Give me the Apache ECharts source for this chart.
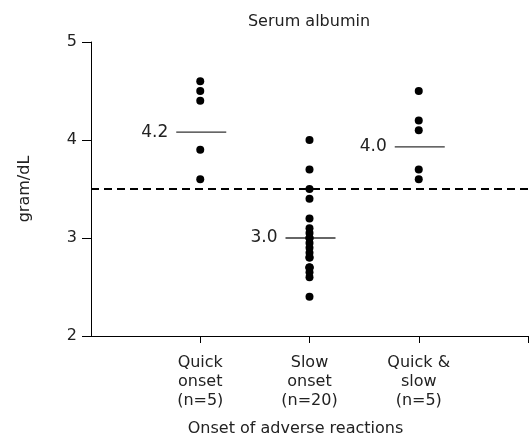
<!DOCTYPE html>
<html>
<head>
<meta charset="utf-8">
<script src="https://cdn.jsdelivr.net/npm/echarts@6/dist/echarts.min.js"></script>
<style>
  html, body { margin: 0; padding: 0; background: #fff; }
  #chart { width: 531px; height: 441px; }
</style>
</head>
<body>
<div id="chart"></div>
<script>
// groups on the x axis
var groups = ['Quick\nonset\n(n=5)', 'Slow\nonset\n(n=20)', 'Quick &\nslow\n(n=5)'];

// serum albumin values (gram/dL)
var quickOnset = [4.6, 4.5, 4.4, 3.9, 3.6];
var slowOnset = [4.0, 3.7, 3.5, 3.4, 3.2, 3.1, 3.05, 3.0, 3.0, 2.95, 2.9, 2.85, 2.8, 2.8,
                 2.7, 2.7, 2.7, 2.65, 2.6, 2.4];
var quickSlow = [4.5, 4.2, 4.1, 3.7, 3.6];

// horizontal mean bars as drawn, and their printed labels
var meanLineY = [4.08, 3.0, 3.93];
var meanLabels = ['4.2', '3.0', '4.0'];

// reference (lower normal limit)
var cutoff = 3.5;

var yTicks = [2, 3, 4, 5];

var font = 'DejaVu Sans';

var allGroups = [quickOnset, slowOnset, quickSlow];
var dots = [];
for (var g = 0; g < allGroups.length; g++) {
    for (var i = 0; i < allGroups[g].length; i++) {
        dots.push([g + 1, allGroups[g][i]]);
    }
}

var meanData = [];
for (var m = 0; m < meanLineY.length; m++) {
    meanData.push([m + 1, meanLineY[m], meanLabels[m]]);
}

var myChart = echarts.init(document.getElementById('chart'));

var option = {
    animation: false,
    title: {
        text: 'Serum albumin',
        left: 304,
        top: 9,
        textAlign: 'center',
        textStyle: { fontFamily: font, fontSize: 16, fontWeight: 'normal', color: '#222' }
    },
    grid: { left: 91, right: 3, top: 42, bottom: 105, outerBoundsMode: 'none', containLabel: false },
    xAxis: {
        type: 'value',
        min: 0,
        max: 4,
        interval: 1,
        splitLine: { show: false },
        axisLine: { lineStyle: { color: '#000', width: 1 } },
        axisTick: {
            lineStyle: { color: '#000' }, length: 7,
            customValues: [1, 2, 3, 4]
        },
        axisLabel: {
            customValues: [1, 2, 3],
            formatter: function (v) { return groups[v - 1] || ''; },
            fontFamily: font,
            fontSize: 16,
            lineHeight: 19,
            color: '#222',
            margin: 17
        },
        name: 'Onset of adverse reactions',
        nameLocation: 'middle',
        nameGap: 85,
        nameTextStyle: { fontFamily: font, fontSize: 16, color: '#222', padding: [0, 28, 0, 0] }
    },
    yAxis: {
        type: 'value',
        min: 2,
        max: 5,
        interval: 1,
        splitLine: { show: false },
        axisLine: { show: true, lineStyle: { color: '#000', width: 1 } },
        axisTick: { show: true, inside: false, length: 9, lineStyle: { color: '#000' } },
        axisLabel: {
            fontFamily: font, fontSize: 16, color: '#222', margin: 14,
            formatter: function (v) { return yTicks.indexOf(v) >= 0 ? String(v) : ''; }
        },
        name: 'gram/dL',
        nameLocation: 'middle',
        nameGap: 58,
        nameTextStyle: { fontFamily: font, fontSize: 16, color: '#222' }
    },
    series: [
        {
            type: 'scatter',
            data: dots,
            symbol: 'circle',
            symbolSize: 8,
            itemStyle: { color: '#000', opacity: 1 },
            markLine: {
                silent: true,
                symbol: ['none', 'none'],
                label: { show: false },
                lineStyle: { color: '#000', width: 2, type: [8, 5] },
                data: [{ yAxis: cutoff }]
            },
            z: 3
        },
        {
            type: 'custom',
            data: meanData,
            renderItem: function (params, api) {
                var p = api.coord([api.value(0), api.value(1)]);
                var label = meanLabels[params.dataIndex];
                return {
                    type: 'group',
                    children: [
                        {
                            type: 'line',
                            shape: { x1: p[0] - 24, y1: p[1], x2: p[0] + 26, y2: p[1] },
                            style: { stroke: '#333', lineWidth: 1.3 }
                        },
                        {
                            type: 'text',
                            x: p[0] - 32,
                            y: p[1],
                            style: {
                                text: label,
                                align: 'right',
                                verticalAlign: 'middle',
                                fontFamily: font,
                                fontSize: 17,
                                fill: '#222'
                            }
                        }
                    ]
                };
            },
            z: 2
        }
    ]
};

myChart.setOption(option);
</script>
</body>
</html>
